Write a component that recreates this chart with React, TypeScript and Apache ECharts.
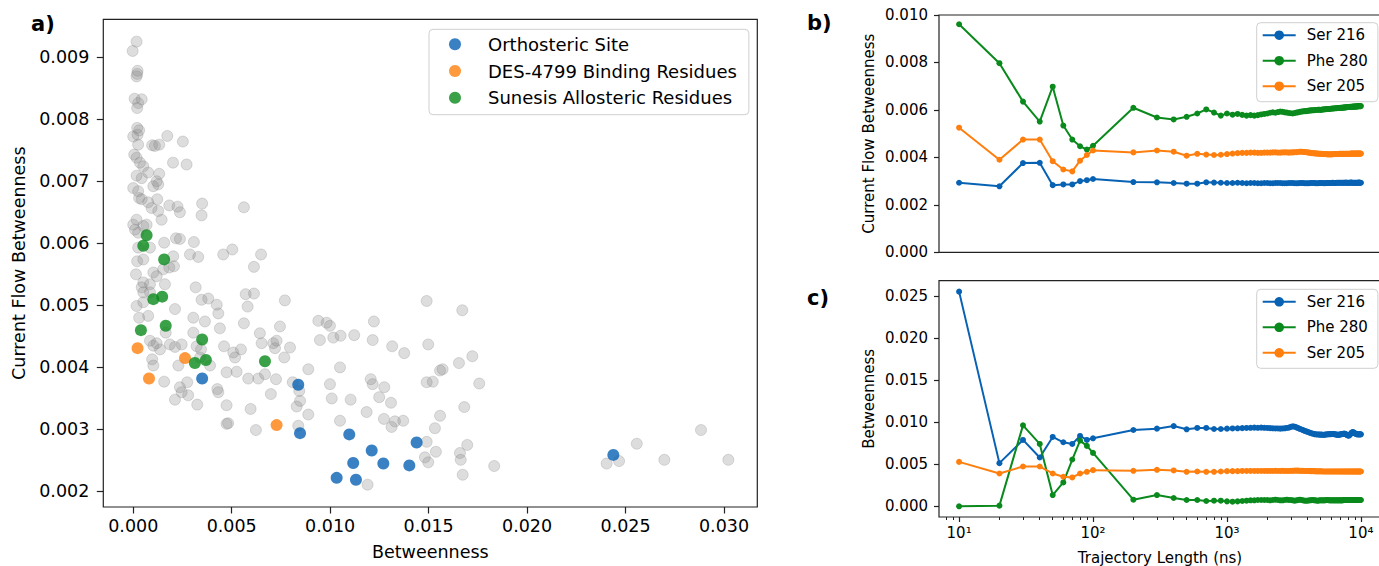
import React, { useEffect, useRef } from "react";
import * as echarts from "echarts";

// ---------- Panel a: scatter data ([Betweenness, Current Flow Betweenness]) ----------
const otherResidues: [number, number][] = [
  [0.00017, 0.00925], [-0.00003, 0.0091], [0.00022, 0.00878], [0.0002, 0.00873], [0.00017, 0.00869],
  [0.00007, 0.00833], [0.00043, 0.00832], [0.00025, 0.00826], [0.0002, 0.00818], [0.0002, 0.00786],
  [0.0003, 0.00782], [0.0, 0.00772], [0.00022, 0.00775], [0.00025, 0.00759], [0.00173, 0.00773],
  [0.00252, 0.00764], [0.00096, 0.00758], [0.00132, 0.00759], [0.0011, 0.00757], [0.00005, 0.00743],
  [0.00017, 0.00738], [0.00034, 0.0073], [0.00051, 0.00724], [0.00202, 0.0073], [0.00271, 0.00727],
  [0.00017, 0.00709], [0.00043, 0.00705], [0.00076, 0.00714], [0.00132, 0.00712], [0.00119, 0.007],
  [0.00102, 0.00692], [0.00127, 0.00695], [0.0, 0.00689], [0.00025, 0.00684], [0.0003, 0.00673],
  [0.00043, 0.00671], [0.00076, 0.00666], [0.00122, 0.00671], [0.00093, 0.00657], [0.00127, 0.00652],
  [0.00144, 0.00638], [0.00183, 0.00661], [0.00225, 0.00659], [0.00237, 0.0065], [0.0035, 0.00664],
  [0.00347, 0.00645], [0.00562, 0.00658], [0.0, 0.0063], [0.00017, 0.00638], [0.00009, 0.00622],
  [0.00025, 0.00617], [0.00051, 0.00628], [0.00068, 0.0063], [0.00157, 0.00601], [0.00217, 0.00608],
  [0.00237, 0.00607], [0.00308, 0.00602], [0.00025, 0.00593], [0.0002, 0.00571], [0.00051, 0.00574],
  [0.00085, 0.00593], [0.00288, 0.00582], [0.0033, 0.00578], [0.00203, 0.00579], [0.00207, 0.00563],
  [0.00183, 0.00561], [0.00152, 0.00558], [0.00457, 0.00582], [0.00503, 0.0059], [0.00649, 0.00582],
  [0.00613, 0.00562], [0.00014, 0.0055], [0.00102, 0.00553], [0.00119, 0.00547], [0.00051, 0.00537],
  [0.00043, 0.00529], [0.00085, 0.00534], [0.00161, 0.00534], [0.00051, 0.00521], [0.00085, 0.00521],
  [0.00317, 0.00529], [0.00347, 0.00509], [0.00381, 0.00511], [0.00424, 0.00501], [0.00432, 0.00487],
  [0.00571, 0.00518], [0.00613, 0.00519], [0.00581, 0.00498], [0.0077, 0.00508], [0.00017, 0.00499],
  [0.00051, 0.00505], [0.0003, 0.0048], [0.00076, 0.00483], [0.00212, 0.00494], [0.00305, 0.0048],
  [0.00364, 0.00474], [0.0044, 0.00463], [0.00562, 0.00471], [0.00745, 0.00466], [0.0094, 0.00475],
  [0.00982, 0.00472], [0.00999, 0.00467], [0.01222, 0.00474], [0.0149, 0.00507], [0.00085, 0.00443],
  [0.00102, 0.00435], [0.00119, 0.00439], [0.00136, 0.00429], [0.00186, 0.00437], [0.00212, 0.00433],
  [0.00246, 0.00437], [0.00165, 0.00456], [0.00305, 0.00456], [0.00344, 0.00429], [0.00322, 0.00434],
  [0.00461, 0.00434], [0.00508, 0.00424], [0.00517, 0.00416], [0.00547, 0.00429], [0.00643, 0.00455],
  [0.00652, 0.00439], [0.00711, 0.00439], [0.00728, 0.00443], [0.0072, 0.00431], [0.00796, 0.00432],
  [0.00767, 0.00416], [0.00948, 0.00444], [0.01016, 0.00448], [0.01053, 0.00451], [0.01122, 0.00452],
  [0.01216, 0.00444], [0.01315, 0.00434], [0.01376, 0.00423], [0.01498, 0.00437], [0.00096, 0.00413],
  [0.00102, 0.00403], [0.00229, 0.00403], [0.00157, 0.00377], [0.0039, 0.00403], [0.00339, 0.00416],
  [0.00474, 0.00392], [0.00525, 0.00393], [0.00584, 0.00382], [0.00635, 0.00382], [0.00669, 0.00389],
  [0.00725, 0.00381], [0.00889, 0.00397], [0.0105, 0.004], [0.00237, 0.00368], [0.00246, 0.0036],
  [0.00274, 0.00376], [0.00279, 0.00355], [0.00212, 0.00348], [0.00427, 0.00365], [0.00432, 0.0036],
  [0.00325, 0.0034], [0.00474, 0.00339], [0.00596, 0.00333], [0.00699, 0.00357], [0.0081, 0.00376],
  [0.00843, 0.00362], [0.0083, 0.00337], [0.00847, 0.00346], [0.00889, 0.00324], [0.00999, 0.00373],
  [0.01008, 0.0035], [0.01104, 0.00348], [0.01206, 0.00381], [0.01216, 0.00373], [0.01275, 0.00368],
  [0.01249, 0.00352], [0.01309, 0.00343], [0.0105, 0.00314], [0.01185, 0.00328], [0.01273, 0.00317],
  [0.01312, 0.00304], [0.01329, 0.00313], [0.01371, 0.00314], [0.00474, 0.00309], [0.00482, 0.0031],
  [0.00623, 0.00299], [0.00838, 0.00306], [0.0149, 0.00376], [0.01481, 0.00255], [0.01498, 0.00247],
  [0.0119, 0.00211], [0.01671, 0.00492], [0.01722, 0.00418], [0.01654, 0.00407], [0.01558, 0.00395],
  [0.01571, 0.00397], [0.01521, 0.00377], [0.01757, 0.00374], [0.01681, 0.00336], [0.01558, 0.00322],
  [0.01532, 0.00302], [0.0149, 0.0028], [0.01537, 0.00264], [0.01696, 0.00275], [0.01659, 0.00262],
  [0.01663, 0.00251], [0.01673, 0.00227], [0.01833, 0.00241], [0.02404, 0.00245], [0.02467, 0.00249],
  [0.02557, 0.00277], [0.02697, 0.00251], [0.02883, 0.00299], [0.03022, 0.00251],
];

const orthostericSite: [number, number][] = [
  [0.0035, 0.00382], [0.00838, 0.00372], [0.00847, 0.00294], [0.01097, 0.00292], [0.01439, 0.00279],
  [0.01211, 0.00266], [0.01117, 0.00246], [0.0127, 0.00245], [0.01402, 0.00242], [0.01033, 0.00222],
  [0.01131, 0.00219], [0.02438, 0.00259],
];

const des4799Residues: [number, number][] = [
  [0.00022, 0.00431], [0.0008, 0.00382], [0.00263, 0.00415], [0.00728, 0.00307],
];

const sunesisResidues: [number, number][] = [
  [0.00068, 0.00613], [0.00051, 0.00596], [0.00157, 0.00574], [0.00102, 0.0051], [0.00147, 0.00514],
  [0.00039, 0.0046], [0.00165, 0.00467], [0.0035, 0.00445], [0.00313, 0.00407], [0.00369, 0.00412],
  [0.00669, 0.0041],
];

// ---------- Panels b & c: convergence vs trajectory length ----------
const trajectoryLength = [
  10, 20, 30, 40, 50, 60, 70, 80, 90, 100,
  200, 300, 400, 500, 600, 700, 800, 900, 1000,
  1100, 1200, 1300, 1400, 1500, 1600, 1700, 1800, 1900,
  2000, 2100, 2200, 2300, 2400, 2500, 2600, 2700, 2800, 2900,
  3000, 3100, 3200, 3300, 3400, 3500, 3600, 3700, 3800, 3900,
  4000, 4100, 4200, 4300, 4400, 4500, 4600, 4700, 4800, 4900,
  5000, 5100, 5200, 5300, 5400, 5500, 5600, 5700, 5800, 5900,
  6000, 6100, 6200, 6300, 6400, 6500, 6600, 6700, 6800, 6900,
  7000, 7100, 7200, 7300, 7400, 7500, 7600, 7700, 7800, 7900,
  8000, 8100, 8200, 8300, 8400, 8500, 8600, 8700, 8800, 8900,
  9000, 9100, 9200, 9300, 9400, 9500, 9600, 9700, 9800, 9900, 10000,
];

const cfbSer216 = [
  0.00293, 0.00278, 0.00376, 0.00377, 0.00283, 0.00286, 0.00286, 0.003, 0.00304, 0.00309,
  0.00296, 0.00295, 0.00292, 0.00289, 0.00289, 0.00295, 0.00294, 0.00293, 0.00292,
  0.00292, 0.00293, 0.00292, 0.00291, 0.00292, 0.00292, 0.00291, 0.00291, 0.00292,
  0.00292, 0.00291, 0.00291, 0.00292, 0.00292, 0.00292, 0.00291, 0.00291, 0.00291, 0.00292,
  0.00292, 0.00292, 0.00291, 0.00291, 0.00291, 0.00292, 0.00292, 0.00292, 0.00291, 0.00291,
  0.00291, 0.00291, 0.00292, 0.00292, 0.00292, 0.00292, 0.00291, 0.00291, 0.00291, 0.00292,
  0.00292, 0.00292, 0.00292, 0.00291, 0.00291, 0.00292, 0.00292, 0.00292, 0.00292, 0.00292,
  0.00292, 0.00293, 0.00293, 0.00292, 0.00292, 0.00292, 0.00293, 0.00293, 0.00293, 0.00293,
  0.00293, 0.00293, 0.00293, 0.00293, 0.00293, 0.00293, 0.00293, 0.00294, 0.00293, 0.00293,
  0.00293, 0.00293, 0.00293, 0.00293, 0.00294, 0.00294, 0.00293, 0.00293, 0.00293, 0.00293,
  0.00293, 0.00293, 0.00293, 0.00293, 0.00293, 0.00293, 0.00294, 0.00294, 0.00293, 0.00293, 0.00293,
];

const cfbPhe280 = [
  0.00961, 0.00797, 0.00635, 0.00551, 0.00698, 0.00534, 0.00475, 0.00447, 0.00433, 0.00449,
  0.00609, 0.00568, 0.0056, 0.00571, 0.00585, 0.00602, 0.00589, 0.00576, 0.00585,
  0.0058, 0.00583, 0.00579, 0.00576, 0.00578, 0.00576, 0.00578, 0.00581, 0.00583,
  0.00585, 0.00588, 0.0059, 0.00588, 0.00591, 0.00593, 0.00592, 0.0059, 0.00589, 0.00587,
  0.00586, 0.00585, 0.00587, 0.00589, 0.0059, 0.00592, 0.00593, 0.00594, 0.00595, 0.00595,
  0.00596, 0.00597, 0.00598, 0.00598, 0.00599, 0.00599, 0.006, 0.006, 0.00601, 0.00601,
  0.006, 0.00601, 0.00602, 0.00602, 0.00603, 0.00603, 0.00604, 0.00604, 0.00604, 0.00605,
  0.00605, 0.00606, 0.00606, 0.00606, 0.00607, 0.00607, 0.00607, 0.00608, 0.00608, 0.00608,
  0.00609, 0.00609, 0.00609, 0.0061, 0.0061, 0.0061, 0.00611, 0.00611, 0.00611, 0.00612,
  0.00612, 0.00612, 0.00612, 0.00613, 0.00613, 0.00613, 0.00613, 0.00614, 0.00614, 0.00614,
  0.00614, 0.00614, 0.00615, 0.00615, 0.00615, 0.00615, 0.00616, 0.00616, 0.00616, 0.00616, 0.00616,
];

const cfbSer205 = [
  0.00525, 0.0039, 0.00475, 0.00475, 0.00384, 0.00349, 0.00341, 0.00386, 0.0041, 0.00429,
  0.00421, 0.00429, 0.00424, 0.00407, 0.00415, 0.00412, 0.0041, 0.00411, 0.00414,
  0.00416, 0.00418, 0.00419, 0.00419, 0.0042, 0.0042, 0.00419, 0.00419, 0.0042,
  0.0042, 0.0042, 0.00421, 0.00421, 0.0042, 0.0042, 0.00421, 0.00421, 0.00421, 0.0042,
  0.00421, 0.00421, 0.00422, 0.00422, 0.00423, 0.00424, 0.00424, 0.00423, 0.00423, 0.00422,
  0.00421, 0.0042, 0.00419, 0.00418, 0.00418, 0.00417, 0.00417, 0.00416, 0.00416, 0.00415,
  0.00415, 0.00415, 0.00414, 0.00414, 0.00414, 0.00414, 0.00413, 0.00413, 0.00413, 0.00413,
  0.00413, 0.00413, 0.00414, 0.00414, 0.00414, 0.00414, 0.00414, 0.00414, 0.00414, 0.00415,
  0.00415, 0.00415, 0.00415, 0.00415, 0.00415, 0.00415, 0.00415, 0.00415, 0.00415, 0.00415,
  0.00415, 0.00415, 0.00415, 0.00415, 0.00416, 0.00416, 0.00416, 0.00416, 0.00416, 0.00416,
  0.00416, 0.00416, 0.00416, 0.00416, 0.00416, 0.00416, 0.00416, 0.00416, 0.00416, 0.00416, 0.00416,
];

const btwSer216 = [
  0.02551, 0.00513, 0.00789, 0.0058, 0.00824, 0.00761, 0.00741, 0.00836, 0.00789, 0.00808,
  0.00907, 0.00923, 0.00954, 0.00915, 0.00931, 0.00931, 0.00919, 0.00919, 0.00923,
  0.00925, 0.00927, 0.00929, 0.00931, 0.00933, 0.00935, 0.00933, 0.00935, 0.00933,
  0.00931, 0.00929, 0.00927, 0.00925, 0.00925, 0.00923, 0.00925, 0.00927, 0.00931, 0.00935,
  0.00944, 0.0095, 0.00946, 0.00938, 0.00929, 0.00921, 0.00913, 0.00905, 0.00897, 0.00891,
  0.00885, 0.00878, 0.00872, 0.00866, 0.00862, 0.00858, 0.00856, 0.00854, 0.00854, 0.00852,
  0.00852, 0.00852, 0.0085, 0.0085, 0.00852, 0.00854, 0.00856, 0.00856, 0.00858, 0.00858,
  0.00858, 0.0086, 0.0086, 0.00858, 0.00856, 0.00854, 0.00852, 0.0085, 0.0085, 0.00852,
  0.00854, 0.00856, 0.00858, 0.0086, 0.00862, 0.00864, 0.00862, 0.00858, 0.00852, 0.00846,
  0.00842, 0.0084, 0.00844, 0.00852, 0.00862, 0.00872, 0.0088, 0.00883, 0.0088, 0.00874,
  0.00868, 0.00864, 0.0086, 0.00858, 0.00856, 0.00856, 0.00856, 0.00856, 0.00856, 0.00856, 0.00856,
];

const btwPhe280 = [
  0.0, 0.00008, 0.00962, 0.00741, 0.00134, 0.00284, 0.00556, 0.00781, 0.00718, 0.00635,
  0.00079, 0.00134, 0.00099, 0.00075, 0.00075, 0.00063, 0.00067, 0.00067, 0.00059,
  0.00055, 0.00059, 0.00063, 0.00067, 0.00071, 0.00071, 0.00075, 0.00075, 0.00075,
  0.00075, 0.00071, 0.00075, 0.00079, 0.00075, 0.00071, 0.00071, 0.00075, 0.00079, 0.00075,
  0.00075, 0.00071, 0.00067, 0.00071, 0.00075, 0.00079, 0.00075, 0.00071, 0.00067, 0.00067,
  0.00067, 0.00071, 0.00071, 0.00075, 0.00075, 0.00071, 0.00071, 0.00067, 0.00067, 0.00071,
  0.00071, 0.00071, 0.00071, 0.00071, 0.00071, 0.00075, 0.00075, 0.00075, 0.00071, 0.00071,
  0.00071, 0.00071, 0.00071, 0.00071, 0.00071, 0.00071, 0.00071, 0.00071, 0.00071, 0.00071,
  0.00071, 0.00071, 0.00071, 0.00071, 0.00075, 0.00075, 0.00075, 0.00075, 0.00075, 0.00075,
  0.00075, 0.00075, 0.00075, 0.00075, 0.00075, 0.00075, 0.00075, 0.00075, 0.00075, 0.00075,
  0.00075, 0.00075, 0.00075, 0.00075, 0.00075, 0.00075, 0.00075, 0.00075, 0.00075, 0.00075, 0.00075,
];

const btwSer205 = [
  0.00528, 0.0039, 0.00473, 0.00473, 0.0039, 0.00351, 0.00343, 0.0039, 0.0041, 0.0043,
  0.00422, 0.00434, 0.00426, 0.0041, 0.00414, 0.0041, 0.0041, 0.00414, 0.00418,
  0.00418, 0.00418, 0.0042, 0.0042, 0.0042, 0.0042, 0.0042, 0.0042, 0.0042,
  0.0042, 0.0042, 0.0042, 0.00422, 0.0042, 0.0042, 0.00422, 0.0042, 0.0042, 0.0042,
  0.00422, 0.00422, 0.00424, 0.00424, 0.00424, 0.00422, 0.00422, 0.00422, 0.0042, 0.0042,
  0.0042, 0.0042, 0.00418, 0.00418, 0.00418, 0.00418, 0.00416, 0.00416, 0.00416, 0.00416,
  0.00416, 0.00416, 0.00414, 0.00414, 0.00414, 0.00414, 0.00414, 0.00414, 0.00414, 0.00414,
  0.00414, 0.00414, 0.00414, 0.00414, 0.00414, 0.00414, 0.00414, 0.00414, 0.00414, 0.00414,
  0.00414, 0.00414, 0.00414, 0.00414, 0.00414, 0.00414, 0.00414, 0.00414, 0.00414, 0.00414,
  0.00414, 0.00414, 0.00414, 0.00414, 0.00414, 0.00414, 0.00414, 0.00414, 0.00414, 0.00414,
  0.00414, 0.00414, 0.00414, 0.00414, 0.00414, 0.00414, 0.00414, 0.00414, 0.00414, 0.00414, 0.00414,
];

// ---------- Ticks ----------
const scatterXTicks = [0, 0.005, 0.01, 0.015, 0.02, 0.025, 0.03];
const scatterYTicks = [0.002, 0.003, 0.004, 0.005, 0.006, 0.007, 0.008, 0.009];
const btwYTicks = [0, 0.005, 0.01, 0.015, 0.02, 0.025];
const logMajorTicks = [10, 100, 1000, 10000];
const logTickLabels = ["10\u00B9", "10\u00B2", "10\u00B3", "10\u2074"];
const logMinorTicks = [
  8, 9, 20, 30, 40, 50, 60, 70, 80, 90, 200, 300, 400, 500, 600, 700, 800, 900,
  2000, 3000, 4000, 5000, 6000, 7000, 8000, 9000,
];

const BLUE = "#0862b3";
const ORANGE = "#ff7f0e";
const GREEN = "#0a8a1c";
const FONT = "DejaVu Sans";
const INK = "#000";

const pair = (ys: number[]) => trajectoryLength.map((t, i) => [t, ys[i]]);
const fmt3 = (v: number) => v.toFixed(3);
const logLabel = (v: number) => logTickLabels[Math.round(Math.log10(v)) - 1] ?? "";

export default function App() {
  const ref = useRef<HTMLDivElement>(null);

  useEffect(() => {
    if (!ref.current) return;
    const chart = echarts.init(ref.current, undefined, { renderer: "svg" });

    const tickStyle = { color: "#222", width: 1.2 };
    const frame = { show: true, borderColor: "#222", borderWidth: 1.2, backgroundColor: "transparent" };
    const bigLabel = { fontFamily: FONT, fontSize: 17.5, color: INK };
    const smallLabel = { fontFamily: FONT, fontSize: 15, color: INK };
    const noLine = { show: false, onZero: false };

    const lineSeries = (name: string, x: number, y: number, ys: number[], color: string) => ({
      type: "line",
      name,
      xAxisIndex: x,
      yAxisIndex: y,
      data: pair(ys),
      symbol: "circle",
      symbolSize: 6,
      showSymbol: true,
      showAllSymbol: true,
      lineStyle: { color, width: 2 },
      itemStyle: { color },
      emphasis: { disabled: true },
      z: 3,
    });

    const legendBox = {
      orient: "vertical",
      borderColor: "#cfcfcf",
      borderWidth: 1,
      borderRadius: 4,
      backgroundColor: "rgba(255,255,255,0.85)",
      selectedMode: false,
    };

    chart.setOption({
      animation: false,
      backgroundColor: "#fff",
      textStyle: { fontFamily: FONT },
      grid: [
        { left: 103.3, top: 19.3, width: 654, height: 489, ...frame },
        { left: 939, top: 15, width: 442, height: 237.3, ...frame },
        { left: 939, top: 280.7, width: 442, height: 237.3, ...frame },
      ],
      xAxis: [
        {
          gridIndex: 0,
          type: "value",
          min: -0.00152,
          max: 0.03169,
          axisLine: noLine,
          splitLine: { show: false },
          axisTick: { show: true, customValues: scatterXTicks, length: 6.5, lineStyle: tickStyle },
          axisLabel: { customValues: scatterXTicks, formatter: fmt3, margin: 10, ...bigLabel },
          name: "Betweenness",
          nameLocation: "middle",
          nameGap: 36,
          nameTextStyle: bigLabel,
        },
        {
          gridIndex: 1,
          type: "log",
          logBase: 10,
          min: 7.0795,
          max: 14125,
          axisLine: noLine,
          splitLine: { show: false },
          axisTick: { show: false },
          axisLabel: { show: false },
        },
        {
          gridIndex: 2,
          type: "log",
          logBase: 10,
          min: 7.0795,
          max: 14125,
          position: "bottom",
          axisLine: noLine,
          splitLine: { show: false },
          minorTick: { show: false },
          axisTick: { show: true, customValues: logMajorTicks, length: 5, lineStyle: tickStyle },
          axisLabel: { customValues: logMajorTicks, formatter: logLabel, margin: 8, ...smallLabel },
          name: "Trajectory Length (ns)",
          nameLocation: "middle",
          nameGap: 33,
          nameTextStyle: smallLabel,
        },
        {
          gridIndex: 2,
          type: "log",
          logBase: 10,
          min: 7.0795,
          max: 14125,
          position: "bottom",
          offset: 0,
          axisLine: noLine,
          splitLine: { show: false },
          axisTick: { show: true, customValues: logMinorTicks, length: 3, lineStyle: { color: "#222", width: 1 } },
          axisLabel: { show: false },
        },
      ],
      yAxis: [
        {
          gridIndex: 0,
          type: "value",
          min: 0.00175,
          max: 0.00961,
          axisLine: noLine,
          splitLine: { show: false },
          axisTick: { show: true, customValues: scatterYTicks, length: 6.5, lineStyle: tickStyle },
          axisLabel: { customValues: scatterYTicks, formatter: fmt3, margin: 14, ...bigLabel },
          name: "Current Flow Betweenness",
          nameLocation: "middle",
          nameGap: 75,
          nameRotate: 90,
          nameTextStyle: bigLabel,
        },
        {
          gridIndex: 1,
          type: "value",
          min: 0,
          max: 0.01,
          interval: 0.002,
          axisLine: noLine,
          splitLine: { show: false },
          axisTick: { show: true, length: 5, lineStyle: tickStyle },
          axisLabel: { formatter: fmt3, margin: 11, ...smallLabel },
          name: "Current Flow Betweenness",
          nameLocation: "middle",
          nameGap: 63,
          nameRotate: 90,
          nameTextStyle: smallLabel,
        },
        {
          gridIndex: 2,
          type: "value",
          min: -0.00127,
          max: 0.02681,
          axisLine: noLine,
          splitLine: { show: false },
          axisTick: { show: true, customValues: btwYTicks, length: 5, lineStyle: tickStyle },
          axisLabel: { customValues: btwYTicks, formatter: fmt3, margin: 11, ...smallLabel },
          name: "Betweenness",
          nameLocation: "middle",
          nameGap: 63,
          nameRotate: 90,
          nameTextStyle: smallLabel,
        },
      ],
      legend: [
        {
          ...legendBox,
          left: 429,
          top: 29.3,
          padding: [6, 12, 8, 20],
          itemGap: 8.7,
          itemWidth: 24,
          itemHeight: 12,
          textStyle: { fontFamily: FONT, fontSize: 18, lineHeight: 18, color: INK, padding: [0, 0, 0, 16] },
          data: [
            { name: "Orthosteric Site", icon: "circle" },
            { name: "DES-4799 Binding Residues", icon: "circle" },
            { name: "Sunesis Allosteric Residues", icon: "circle" },
          ],
        },
        {
          ...legendBox,
          left: 1256.7,
          top: 22.7,
          padding: [5, 10, 8, 5],
          itemGap: 10.5,
          itemWidth: 33,
          itemHeight: 12,
          textStyle: { fontFamily: FONT, fontSize: 15, lineHeight: 15, color: INK, padding: [0, 0, 0, 6] },
          data: ["Ser 216", "Phe 280", "Ser 205"],
        },
        {
          ...legendBox,
          left: 1256.7,
          top: 289.3,
          padding: [5, 10, 8, 5],
          itemGap: 10.5,
          itemWidth: 33,
          itemHeight: 12,
          textStyle: { fontFamily: FONT, fontSize: 15, lineHeight: 15, color: INK, padding: [0, 0, 0, 6] },
          data: ["Ser 216", "Phe 280", "Ser 205"],
        },
      ],
      graphic: [
        { type: "text", left: 31, top: 13, style: { text: "a)", font: `bold 21px "${FONT}"`, fill: "#000" } },
        { type: "text", left: 807, top: 12, style: { text: "b)", font: `bold 21px "${FONT}"`, fill: "#000" } },
        { type: "text", left: 807, top: 287, style: { text: "c)", font: `bold 21px "${FONT}"`, fill: "#000" } },
      ],
      series: [
        {
          type: "scatter",
          name: "Other residues",
          xAxisIndex: 0,
          yAxisIndex: 0,
          data: otherResidues,
          symbol: "circle",
          symbolSize: 11,
          itemStyle: {
            color: "rgba(128,128,128,0.34)",
            borderColor: "rgba(128,128,128,0.34)",
            borderWidth: 1,
          },
          emphasis: { disabled: true },
          z: 2,
        },
        {
          type: "scatter",
          name: "Orthosteric Site",
          xAxisIndex: 0,
          yAxisIndex: 0,
          data: orthostericSite,
          symbol: "circle",
          symbolSize: 12,
          itemStyle: { color: BLUE },
          emphasis: { disabled: true },
          z: 3,
        },
        {
          type: "scatter",
          name: "DES-4799 Binding Residues",
          xAxisIndex: 0,
          yAxisIndex: 0,
          data: des4799Residues,
          symbol: "circle",
          symbolSize: 12,
          itemStyle: { color: ORANGE },
          emphasis: { disabled: true },
          z: 3,
        },
        {
          type: "scatter",
          name: "Sunesis Allosteric Residues",
          xAxisIndex: 0,
          yAxisIndex: 0,
          data: sunesisResidues,
          symbol: "circle",
          symbolSize: 12,
          itemStyle: { color: GREEN },
          emphasis: { disabled: true },
          z: 3,
        },
        lineSeries("Ser 216", 1, 1, cfbSer216, BLUE),
        lineSeries("Phe 280", 1, 1, cfbPhe280, GREEN),
        lineSeries("Ser 205", 1, 1, cfbSer205, ORANGE),
        lineSeries("Ser 216", 2, 2, btwSer216, BLUE),
        lineSeries("Phe 280", 2, 2, btwPhe280, GREEN),
        lineSeries("Ser 205", 2, 2, btwSer205, ORANGE),
      ],
    });

    return () => chart.dispose();
  }, []);

  return (
    <div
      style={{
        position: "fixed",
        left: 0,
        top: 0,
        width: 1379,
        height: 566,
        overflow: "hidden",
        background: "#fff",
      }}
    >
      <div ref={ref} style={{ width: 1400, height: 566 }} />
    </div>
  );
}
